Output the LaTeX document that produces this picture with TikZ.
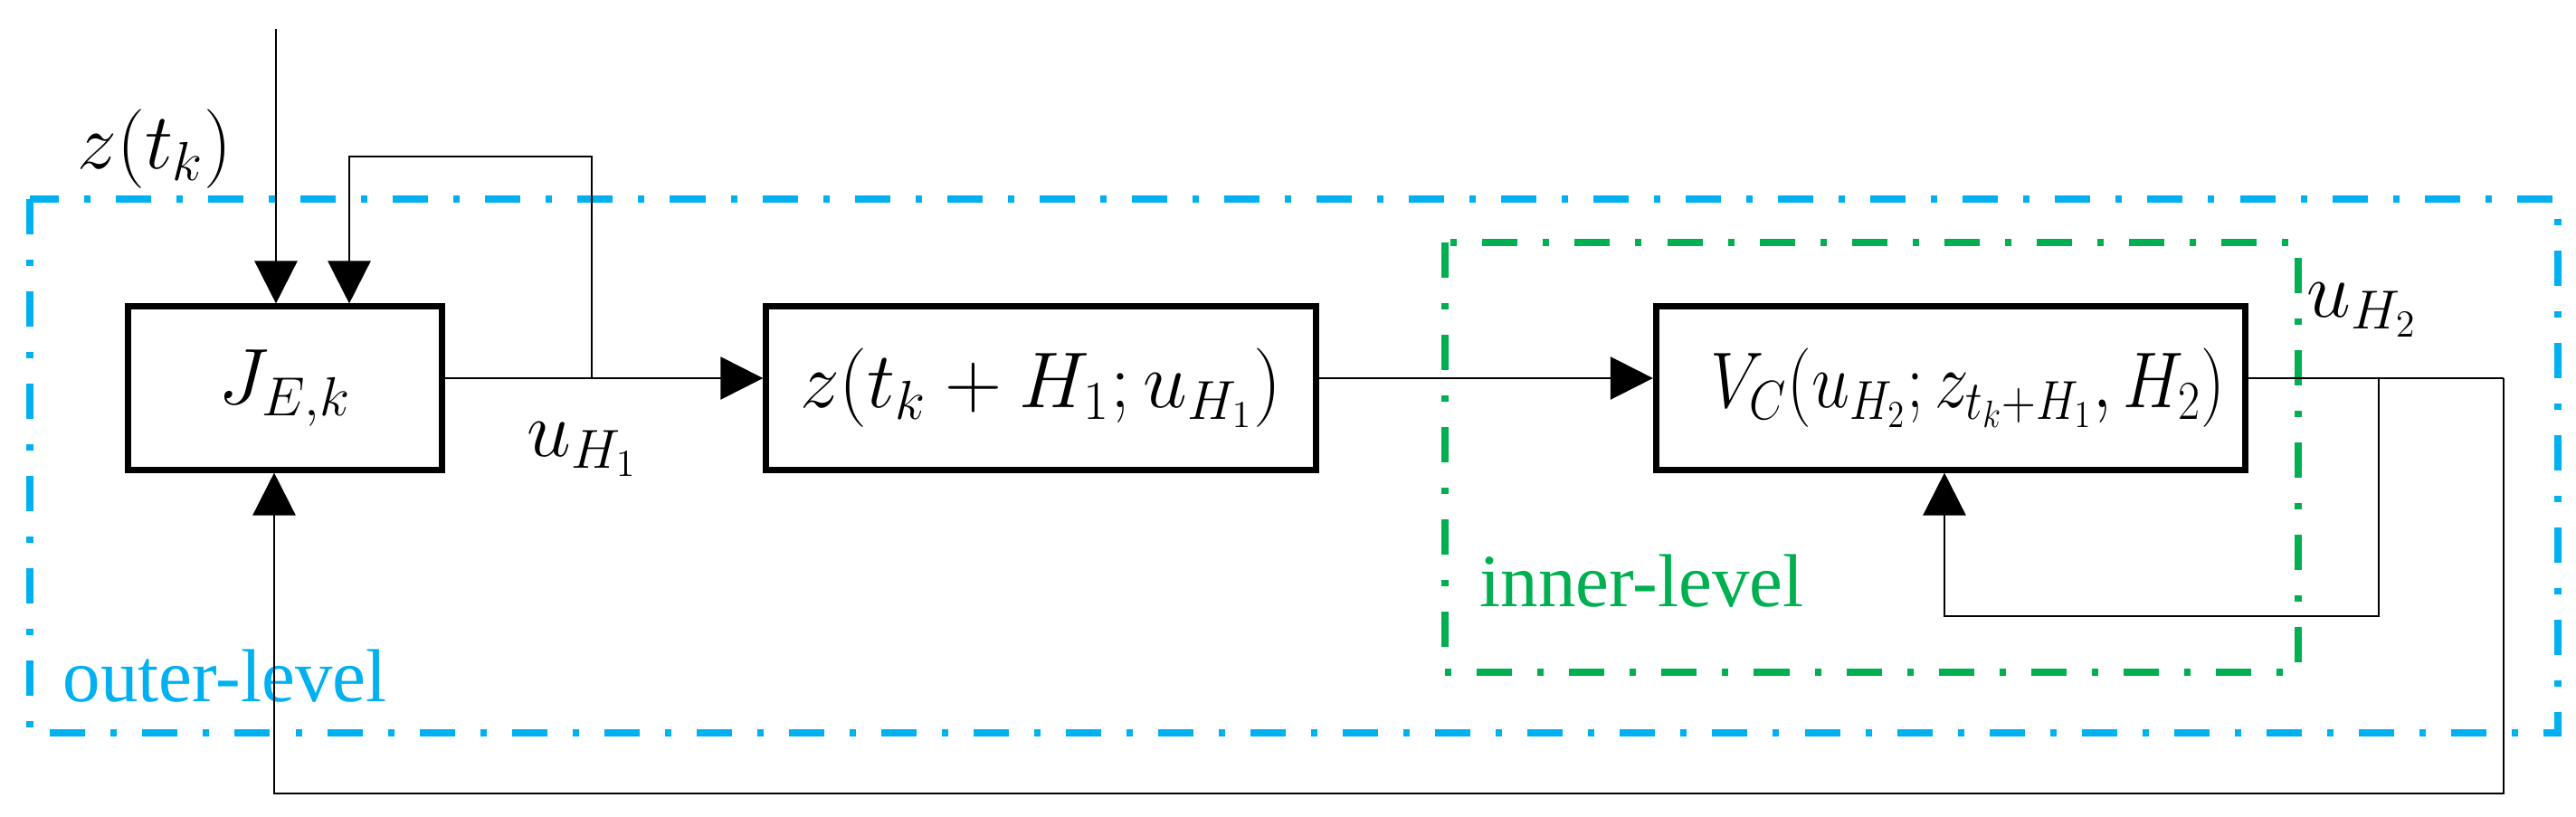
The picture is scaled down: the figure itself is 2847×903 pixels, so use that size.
\documentclass[tikz,border=0pt]{standalone}
\usepackage{amsmath}
\usepackage{fontspec}
\newfontfamily\levelfont{Liberation Serif}
\usetikzlibrary{arrows.meta,positioning}
\definecolor{outerblue}{HTML}{00B0F0}
\definecolor{innergreen}{HTML}{00B050}
\tikzset{
  block/.style={draw,line width=0.07cm,minimum height=1.8cm,inner sep=0pt},
  sig/.style={line width=0.025cm,-{Triangle[length=0.47cm,width=0.47cm]}},
  wire/.style={line width=0.025cm},
  levelbox/.style={line width=0.08cm,dash pattern=on 0.39cm off 0.28cm on 0.07cm off 0.28cm},
  levellabel/.style={font=\levelfont\fontsize{23.6}{28}\selectfont,inner sep=0pt,anchor=base west}
}

\begin{document}
\begin{tikzpicture}[x=0.01cm,y=-0.01cm,node distance=2cm,on grid,font=\fontsize{23}{28}\selectfont]
  \useasboundingbox (0,0) rectangle (2847,903);
  \draw[levelbox,outerblue] (33,220) rectangle (2827,810);
  \draw[levelbox,innergreen] (1597,268) rectangle (2540,743);
  \node[levellabel,text=outerblue] (outlbl) at (69,775) {outer-level};
  \node[levellabel,text=innergreen] (inlbl) at (1635,670) {inner-level};
  \node[block,minimum width=3.47cm] (jek) at (315,429) {$J_{E,k}$};
  \node[block,minimum width=6.07cm] (bz) [right=8.35cm of jek] {$z(t_k+H_1;u_{H_1})$};
  \node[block,minimum width=6.51cm] (vc) [right=10.05cm of bz]
    {\hspace*{0.38cm}\scalebox{0.86}[1]{$V_C(u_{H_2};z_{t_k+H_1},H_2)$}};
  \node (zt) at (171,165) {$z(t_k)$};
  \node (uh1) at (644,497) {$u_{H_1}$};
  \node (uh2) at (2611,343) {$u_{H_2}$};
  \coordinate (lvl) at (0,418);
  \coordinate (zin) at (305,32);
  \coordinate (b1) at (654,418);
  \coordinate (fb1) at (386,173);
  \coordinate (b2) at (2629,418);
  \coordinate (fb2) at (2149,681);
  \coordinate (b3) at (2767,418);
  \coordinate (fb3) at (303,877);
  \draw[sig] (zin) -- (zin |- jek.north);
  \draw[sig] (jek.east |- lvl) -- (bz.west |- lvl);
  \draw[sig] (b1) |- (fb1) -- (fb1 |- jek.north);
  \draw[sig] (bz.east |- lvl) -- (vc.west |- lvl);
  \draw[wire] (vc.east |- lvl) -- (b3);
  \draw[sig] (b2) |- (fb2) -- (fb2 |- vc.south);
  \draw[sig] (b3) |- (fb3) -- (fb3 |- jek.south);
\end{tikzpicture}
\end{document}
